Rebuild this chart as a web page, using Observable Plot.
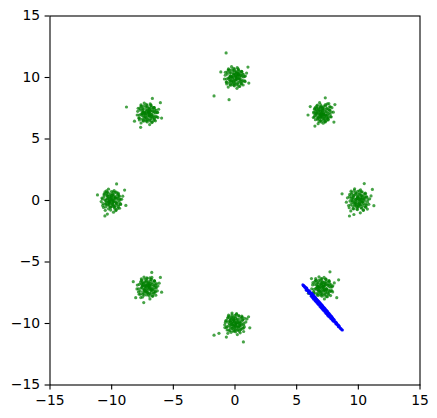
<!DOCTYPE html>
<html>
<head>
<meta charset="utf-8">
<script src="https://cdn.jsdelivr.net/npm/d3@7"></script>
<script src="https://cdn.jsdelivr.net/npm/@observablehq/plot@0.6"></script>
<style>
  html, body { margin: 0; padding: 0; background: white; }
</style>
</head>
<body>
<div id="chart"></div>
<script>
const xTicks = [-15, -10, -5, 0, 5, 10, 15];
const yTicks = [-15, -10, -5, 0, 5, 10, 15];

// green clusters: outer spread + dense core
const cluster0 = [[10.21,-0.35],[9.48,0.27],[10.56,0.61],[9.93,-0.74],[10.77,0.06],[9.65,-0.22],[10.25,0.40],[9.30,0.49],[10.04,0.11],[10.56,-0.53],[9.57,-0.66],[10.18,0.86],[9.03,-0.14],[10.35,-0.10],[9.83,0.58],[10.66,0.32],[9.74,-0.44],[10.85,-0.31],[9.41,0.76],[10.10,-0.18],[9.96,0.31],[10.40,-0.80],[9.21,-0.41],[10.50,0.17],[9.78,0.06],[10.23,-0.59],[9.52,-0.02],[11.03,0.37],[9.70,0.95],[10.06,0.49],[9.86,-0.34],[10.73,-0.70],[9.12,0.22],[10.31,0.71],[9.39,-0.85],[10.43,-0.25],[9.89,0.18],[10.16,-1.00],[9.63,0.43],[10.59,0.55],[10.01,-0.49],[9.26,-0.59],[10.92,0.14],[9.76,-0.07],[10.29,0.23],[9.48,0.66],[10.12,-0.06],[10.64,-0.40],[9.58,0.13],[9.94,0.74],[11.26,-0.42],[8.68,0.54],[10.48,1.38],[9.28,-1.26],[11.14,0.90],[9.64,-1.14],[10.37,0.02],[9.90,-0.15],[10.02,0.28],[10.19,0.09],[9.81,-0.25],[10.08,-0.30],[9.95,0.05],[10.27,-0.12]];
const cluster0core = [[10.45,0.12],[9.48,-0.20],[10.10,0.55],[9.85,-0.48],[10.62,-0.30],[9.65,0.40],[10.28,-0.62],[9.40,0.15],[10.05,-0.25],[10.35,0.35],[9.75,0.65],[10.55,-0.05],[9.55,-0.45],[10.18,0.20],[9.92,0.32],[10.40,-0.42],[9.32,-0.05],[10.25,0.68],[9.70,-0.15],[10.70,0.25],[9.88,-0.70],[10.15,-0.38],[9.45,0.50],[10.48,0.52],[9.80,0.10],[10.32,-0.15],[9.60,0.25],[10.08,0.78],[9.28,0.32],[10.60,-0.55],[9.95,-0.55],[10.22,0.42],[9.62,-0.68],[10.75,-0.12],[9.38,-0.35],[10.12,0.05],[9.82,0.50],[10.42,-0.78],[9.50,-0.02],[10.30,0.12],[9.72,-0.32],[10.52,0.30],[9.90,0.18],[10.02,-0.40],[9.67,0.82]];
const cluster1 = [[6.72,7.31],[7.45,6.88],[6.91,7.62],[7.58,7.40],[6.55,6.97],[7.19,6.63],[6.84,6.81],[7.33,7.79],[7.02,7.12],[6.47,7.48],[7.70,7.01],[6.99,6.39],[7.28,7.26],[6.63,7.70],[7.51,6.70],[6.80,7.03],[7.12,7.45],[6.38,7.19],[7.86,7.55],[7.04,6.92],[6.93,7.27],[7.40,6.51],[6.69,6.60],[7.61,7.87],[7.16,7.00],[6.86,7.95],[7.25,6.82],[6.58,7.35],[7.79,6.79],[7.09,7.58],[6.77,6.73],[7.48,7.15],[6.43,6.79],[7.21,7.68],[6.95,6.50],[7.67,7.33],[6.66,7.09],[7.36,6.95],[6.89,7.39],[7.55,6.60],[7.00,6.84],[6.52,7.58],[7.97,7.18],[7.13,6.71],[6.74,7.52],[7.42,7.43],[6.98,7.06],[7.31,6.42],[6.61,7.12],[7.73,7.62],[8.02,6.38],[6.10,7.64],[7.32,8.35],[6.48,6.05],[8.10,7.80],[5.92,6.95],[7.07,7.20],[6.90,6.95],[7.18,7.10],[7.01,6.98],[6.88,7.15],[7.22,7.02],[7.05,7.33],[6.97,6.77]];
const cluster1core = [[7.52,6.95],[6.55,7.27],[7.17,6.52],[6.92,7.55],[7.69,7.37],[6.72,6.67],[7.35,7.69],[6.47,6.92],[7.12,7.32],[7.42,6.72],[6.82,6.42],[7.62,7.12],[6.62,7.52],[7.25,6.87],[6.99,6.75],[7.47,7.49],[6.39,7.12],[7.32,6.39],[6.77,7.22],[7.77,6.82],[6.95,7.77],[7.22,7.45],[6.52,6.57],[7.55,6.55],[6.87,6.97],[7.39,7.22],[6.67,6.82],[7.15,6.29],[6.35,6.75],[7.67,7.62],[7.02,7.62],[7.29,6.65],[6.69,7.75],[7.82,7.19],[6.45,7.42],[7.19,7.02],[6.89,6.57],[7.49,7.85],[6.57,7.09],[7.37,6.95],[6.79,7.39],[7.59,6.77],[6.97,6.89],[7.09,7.47],[6.74,6.25]];
const cluster2 = [[0.31,10.22],[-0.42,9.71],[0.55,10.48],[-0.10,9.38],[0.68,10.05],[-0.33,9.80],[0.26,10.35],[-0.63,10.44],[0.05,10.08],[0.51,9.52],[-0.39,9.41],[0.18,10.81],[-0.86,9.88],[0.34,9.90],[-0.15,10.54],[0.60,10.30],[-0.24,9.60],[0.79,9.72],[-0.53,10.70],[0.11,9.84],[-0.02,10.27],[0.38,9.27],[-0.71,9.63],[0.46,10.15],[-0.19,10.04],[0.22,9.48],[-0.45,10.00],[0.94,10.36],[-0.28,10.88],[0.07,10.45],[-0.13,9.70],[0.66,9.39],[-0.79,10.19],[0.29,10.63],[-0.55,9.22],[0.41,9.77],[-0.08,10.17],[0.16,9.12],[-0.34,10.40],[0.53,10.51],[0.02,9.56],[-0.67,9.47],[0.84,10.12],[-0.21,9.93],[0.27,10.21],[-0.47,10.60],[0.12,9.95],[0.58,9.64],[-0.38,10.12],[-0.04,10.68],[1.12,9.55],[-0.72,12.0],[-1.70,8.5],[-0.48,8.2],[1.05,10.85],[-1.15,10.45],[0.09,10.02],[-0.06,9.89],[0.20,10.10],[-0.11,10.28],[0.36,10.01],[0.01,9.76],[-0.27,10.09],[0.14,10.33]];
const cluster2core = [[0.12,10.45],[-0.20,9.48],[0.55,10.10],[-0.48,9.85],[-0.30,10.62],[0.40,9.65],[-0.62,10.28],[0.15,9.40],[-0.25,10.05],[0.35,10.35],[0.65,9.75],[-0.05,10.55],[-0.45,9.55],[0.20,10.18],[0.32,9.92],[-0.42,10.40],[-0.05,9.32],[0.68,10.25],[-0.15,9.70],[0.25,10.70],[-0.70,9.88],[-0.38,10.15],[0.50,9.45],[0.52,10.48],[0.10,9.80],[-0.15,10.32],[0.25,9.60],[0.78,10.08],[0.32,9.28],[-0.55,10.60],[-0.55,9.95],[0.42,10.22],[-0.68,9.62],[-0.12,10.75],[-0.35,9.38],[0.05,10.12],[0.50,9.82],[-0.78,10.42],[-0.02,9.50],[0.12,10.30],[-0.32,9.72],[0.30,10.52],[0.18,9.90],[-0.40,10.02],[0.82,9.67]];
const cluster3 = [[-6.78,6.81],[-7.52,7.33],[-6.60,7.55],[-7.18,6.46],[-6.43,7.12],[-7.39,6.90],[-6.92,7.40],[-7.71,7.49],[-7.02,7.15],[-6.55,6.61],[-7.45,6.51],[-6.88,7.85],[-7.93,6.95],[-6.75,6.98],[-7.22,7.60],[-6.49,7.36],[-7.31,6.69],[-6.33,6.81],[-7.62,7.78],[-6.97,6.89],[-7.11,7.33],[-6.70,6.38],[-7.80,6.71],[-6.63,7.21],[-7.27,7.12],[-6.86,6.56],[-7.53,7.05],[-6.19,7.42],[-7.36,7.92],[-7.01,7.50],[-7.20,6.77],[-6.45,6.48],[-7.89,7.25],[-6.81,7.71],[-7.62,6.30],[-6.71,6.85],[-7.16,7.22],[-6.92,6.17],[-7.44,7.45],[-6.56,7.56],[-7.06,6.62],[-7.75,6.55],[-6.28,7.17],[-7.29,6.99],[-6.84,7.27],[-7.57,7.65],[-6.96,7.00],[-6.52,6.72],[-7.48,7.16],[-7.13,7.73],[-5.95,6.70],[-8.80,7.60],[-6.70,8.30],[-7.65,5.95],[-6.05,7.95],[-8.15,6.45],[-7.00,7.10],[-7.12,6.96],[-6.90,7.08],[-7.24,7.02],[-7.04,7.28],[-6.94,6.84],[-7.33,7.18],[-6.99,7.19]];
const cluster3core = [[-6.95,7.52],[-7.27,6.55],[-6.52,7.17],[-7.55,6.92],[-7.37,7.69],[-6.67,6.72],[-7.69,7.35],[-6.92,6.47],[-7.32,7.12],[-6.72,7.42],[-6.42,6.82],[-7.12,7.62],[-7.52,6.62],[-6.87,7.25],[-6.75,6.99],[-7.49,7.47],[-7.12,6.39],[-6.39,7.32],[-7.22,6.77],[-6.82,7.77],[-7.77,6.95],[-7.45,7.22],[-6.57,6.52],[-6.55,7.55],[-6.97,6.87],[-7.22,7.39],[-6.82,6.67],[-6.29,7.15],[-6.75,6.35],[-7.62,7.67],[-7.62,7.02],[-6.65,7.29],[-7.75,6.69],[-7.19,7.82],[-7.42,6.45],[-7.02,7.19],[-6.57,6.89],[-7.85,7.49],[-7.09,6.57],[-6.95,7.37],[-7.39,6.79],[-6.77,7.59],[-6.89,6.97],[-7.47,7.09],[-6.25,6.74]];
const cluster4 = [[-9.70,0.24],[-10.43,-0.28],[-9.47,0.60],[-10.08,-0.55],[-9.32,0.12],[-10.30,0.31],[-9.84,-0.39],[-10.62,0.45],[-9.95,0.06],[-9.50,-0.64],[-10.36,0.68],[-9.80,0.81],[-10.85,-0.09],[-9.66,-0.15],[-10.12,0.50],[-9.41,0.37],[-10.21,-0.32],[-9.27,-0.28],[-10.54,0.70],[-9.90,-0.12],[-10.04,0.29],[-9.63,-0.77],[-10.73,-0.41],[-9.55,0.20],[-10.17,0.03],[-9.76,-0.54],[-10.47,0.01],[-9.10,0.35],[-10.26,0.92],[-9.93,0.44],[-10.13,-0.22],[-9.36,-0.63],[-10.79,0.20],[-9.71,0.66],[-10.52,-0.80],[-9.62,-0.20],[-10.07,0.16],[-9.85,-0.95],[-10.34,0.40],[-9.45,0.52],[-9.98,-0.45],[-10.66,-0.57],[-9.19,0.10],[-10.22,-0.04],[-9.74,0.22],[-10.45,0.58],[-9.88,-0.04],[-9.44,-0.37],[-10.37,0.13],[-10.02,0.73],[-8.85,-0.40],[-11.15,0.45],[-9.60,1.35],[-10.55,-1.25],[-8.95,0.85],[-10.35,-1.10],[-10.00,0.05],[-9.92,0.12],[-10.10,-0.08],[-9.86,0.30],[-10.18,0.19],[-9.97,-0.28],[-10.26,-0.13],[-9.79,0.01]];
const cluster4core = [[-10.45,-0.12],[-9.48,0.20],[-10.10,-0.55],[-9.85,0.48],[-10.62,0.30],[-9.65,-0.40],[-10.28,0.62],[-9.40,-0.15],[-10.05,0.25],[-10.35,-0.35],[-9.75,-0.65],[-10.55,0.05],[-9.55,0.45],[-10.18,-0.20],[-9.92,-0.32],[-10.40,0.42],[-9.32,0.05],[-10.25,-0.68],[-9.70,0.15],[-10.70,-0.25],[-9.88,0.70],[-10.15,0.38],[-9.45,-0.50],[-10.48,-0.52],[-9.80,-0.10],[-10.32,0.15],[-9.60,-0.25],[-10.08,-0.78],[-9.28,-0.32],[-10.60,0.55],[-9.95,0.55],[-10.22,-0.42],[-9.62,0.68],[-10.75,0.12],[-9.38,0.35],[-10.12,-0.05],[-9.82,-0.50],[-10.42,0.78],[-9.50,0.02],[-10.30,-0.12],[-9.72,0.32],[-10.52,-0.30],[-9.90,-0.18],[-10.02,0.40],[-9.67,-0.82]];
const cluster5 = [[-6.80,-7.30],[-7.49,-6.83],[-6.54,-6.51],[-7.15,-7.68],[-6.39,-7.04],[-7.36,-7.26],[-6.87,-6.75],[-7.66,-6.63],[-7.00,-6.98],[-6.58,-7.55],[-7.47,-7.63],[-6.90,-6.28],[-7.95,-7.19],[-6.74,-7.15],[-7.22,-6.58],[-6.46,-6.80],[-7.31,-7.45],[-6.30,-7.34],[-7.59,-6.36],[-6.95,-7.22],[-7.10,-6.80],[-6.68,-7.79],[-7.83,-7.43],[-6.60,-6.93],[-7.26,-7.01],[-6.83,-7.61],[-7.55,-7.09],[-6.15,-6.72],[-7.38,-6.22],[-7.02,-6.61],[-7.21,-7.37],[-6.42,-7.70],[-7.92,-6.88],[-6.78,-6.42],[-7.64,-7.89],[-6.69,-7.28],[-7.14,-6.91],[-6.90,-8.00],[-7.45,-6.70],[-6.53,-6.55],[-7.05,-7.52],[-7.77,-7.62],[-6.25,-6.95],[-7.28,-7.14],[-6.82,-6.86],[-7.58,-6.48],[-6.98,-7.13],[-6.49,-7.42],[-7.50,-6.96],[-7.12,-6.35],[-5.95,-7.45],[-8.25,-6.60],[-6.75,-5.85],[-7.40,-8.30],[-6.05,-6.25],[-8.05,-7.90],[-7.02,-7.04],[-7.16,-7.20],[-6.93,-7.09],[-7.28,-6.89],[-7.05,-6.73],[-6.86,-7.16],[-7.37,-7.31],[-6.96,-6.89]];
const cluster5core = [[-7.52,-6.95],[-6.55,-7.27],[-7.17,-6.52],[-6.92,-7.55],[-7.69,-7.37],[-6.72,-6.67],[-7.35,-7.69],[-6.47,-6.92],[-7.12,-7.32],[-7.42,-6.72],[-6.82,-6.42],[-7.62,-7.12],[-6.62,-7.52],[-7.25,-6.87],[-6.99,-6.75],[-7.47,-7.49],[-6.39,-7.12],[-7.32,-6.39],[-6.77,-7.22],[-7.77,-6.82],[-6.95,-7.77],[-7.22,-7.45],[-6.52,-6.57],[-7.55,-6.55],[-6.87,-6.97],[-7.39,-7.22],[-6.67,-6.82],[-7.15,-6.29],[-6.35,-6.75],[-7.67,-7.62],[-7.02,-7.62],[-7.29,-6.65],[-6.69,-7.75],[-7.82,-7.19],[-6.45,-7.42],[-7.19,-7.02],[-6.89,-6.57],[-7.49,-7.85],[-6.57,-7.09],[-7.37,-6.95],[-6.79,-7.39],[-7.59,-6.77],[-6.97,-6.89],[-7.09,-7.47],[-6.74,-6.25]];
const cluster6 = [[0.27,-10.30],[-0.39,-9.76],[0.58,-9.48],[-0.05,-10.62],[0.72,-9.98],[-0.30,-10.21],[0.21,-9.65],[-0.60,-9.55],[0.09,-9.93],[0.48,-10.49],[-0.41,-10.58],[0.13,-9.20],[-0.83,-10.10],[0.36,-10.13],[-0.18,-9.47],[0.63,-9.70],[-0.20,-10.40],[0.76,-10.28],[-0.52,-9.32],[0.05,-10.15],[-0.06,-9.73],[0.42,-10.76],[-0.69,-10.33],[0.49,-9.84],[-0.15,-9.97],[0.25,-10.52],[-0.44,-10.03],[0.97,-9.63],[-0.24,-9.15],[0.03,-9.58],[-0.10,-10.30],[0.70,-10.65],[-0.76,-9.79],[0.32,-9.38],[-0.58,-10.80],[0.38,-10.22],[-0.03,-9.84],[0.19,-10.90],[-0.31,-9.62],[0.56,-9.50],[0.00,-10.44],[-0.64,-10.53],[0.88,-9.87],[-0.25,-10.07],[0.24,-9.80],[-0.50,-9.41],[0.10,-10.05],[0.61,-10.37],[-0.36,-9.88],[-0.02,-9.33],[-1.70,-10.95],[-1.30,-10.80],[0.68,-11.50],[-0.70,-11.10],[1.20,-10.35],[1.10,-9.45],[0.06,-10.00],[-0.08,-10.12],[0.17,-9.91],[-0.12,-9.70],[0.33,-9.99],[0.02,-10.25],[-0.28,-9.92],[0.14,-10.20]];
const cluster6core = [[-0.12,-9.55],[0.20,-10.52],[-0.55,-9.90],[0.48,-10.15],[0.30,-9.38],[-0.40,-10.35],[0.62,-9.72],[-0.15,-10.60],[0.25,-9.95],[-0.35,-9.65],[-0.65,-10.25],[0.05,-9.45],[0.45,-10.45],[-0.20,-9.82],[-0.32,-10.08],[0.42,-9.60],[0.05,-10.68],[-0.68,-9.75],[0.15,-10.30],[-0.25,-9.30],[0.70,-10.12],[0.38,-9.85],[-0.50,-10.55],[-0.52,-9.52],[-0.10,-10.20],[0.15,-9.68],[-0.25,-10.40],[-0.78,-9.92],[-0.32,-10.72],[0.55,-9.40],[0.55,-10.05],[-0.42,-9.78],[0.68,-10.38],[0.12,-9.25],[0.35,-10.62],[-0.05,-9.88],[-0.50,-10.18],[0.78,-9.58],[0.02,-10.50],[-0.12,-9.70],[0.32,-10.28],[-0.30,-9.48],[-0.18,-10.10],[0.40,-9.98],[-0.82,-10.33]];
const cluster7 = [[7.34,-7.36],[6.63,-6.85],[7.62,-6.52],[7.00,-7.70],[7.77,-7.05],[6.78,-7.27],[7.30,-6.72],[6.47,-6.60],[7.15,-6.97],[7.56,-7.56],[6.68,-7.66],[7.22,-6.25],[6.22,-7.18],[7.41,-7.17],[6.91,-6.54],[7.69,-6.78],[6.86,-7.47],[7.84,-7.33],[6.54,-6.34],[7.12,-7.22],[7.03,-6.78],[7.49,-7.82],[6.37,-7.41],[7.55,-6.90],[6.92,-7.02],[7.31,-7.62],[6.62,-7.09],[8.05,-6.70],[6.81,-6.20],[7.10,-6.63],[6.95,-7.38],[7.75,-7.73],[6.29,-6.86],[7.38,-6.40],[6.51,-7.90],[7.45,-7.27],[7.04,-6.92],[7.25,-8.00],[6.74,-6.68],[7.63,-6.56],[7.07,-7.51],[6.41,-7.58],[7.93,-6.93],[6.84,-7.12],[7.32,-6.84],[6.58,-6.49],[7.17,-7.07],[7.67,-7.41],[6.70,-6.95],[7.06,-6.36],[8.40,-6.45],[5.95,-7.55],[7.70,-5.80],[6.75,-8.25],[8.25,-7.90],[6.20,-6.35],[7.10,-7.05],[6.99,-7.18],[7.22,-6.95],[6.88,-6.87],[7.28,-7.25],[7.01,-6.73],[6.80,-7.30],[7.19,-7.35]];
const cluster7core = [[7.22,-6.65],[6.90,-7.62],[7.65,-7.00],[6.62,-7.25],[6.80,-6.48],[7.50,-7.45],[6.48,-6.82],[7.25,-7.70],[6.85,-7.05],[7.45,-6.75],[7.75,-7.35],[7.05,-6.55],[6.65,-7.55],[7.30,-6.92],[7.42,-7.18],[6.68,-6.70],[7.05,-7.78],[7.78,-6.85],[6.95,-7.40],[7.35,-6.40],[6.40,-7.22],[6.72,-6.95],[7.60,-7.65],[7.62,-6.62],[7.20,-7.30],[6.95,-6.78],[7.35,-7.50],[7.88,-7.02],[7.42,-7.82],[6.55,-6.50],[6.55,-7.15],[7.52,-6.88],[6.42,-7.48],[6.98,-6.35],[6.75,-7.72],[7.15,-6.98],[7.60,-7.28],[6.32,-6.68],[7.08,-7.60],[7.22,-6.80],[6.78,-7.38],[7.40,-6.58],[7.28,-7.20],[6.70,-7.08],[7.92,-7.43]];

// blue elongated cluster
const bluePoints = [[5.50,-6.85],[5.54,-6.93],[5.58,-6.92],[5.63,-7.04],[5.66,-6.99],[5.71,-7.12],[5.74,-7.07],[5.79,-7.22],[5.83,-7.19],[5.87,-7.31],[5.91,-7.27],[5.95,-7.40],[5.99,-7.37],[6.03,-7.50],[6.06,-7.41],[6.10,-7.58],[6.14,-7.53],[6.18,-7.68],[6.21,-7.60],[6.25,-7.76],[6.28,-7.67],[6.32,-7.84],[6.35,-7.75],[6.39,-7.93],[6.42,-7.84],[6.46,-8.01],[6.49,-7.92],[6.53,-8.10],[6.56,-7.99],[6.60,-8.18],[6.63,-8.06],[6.67,-8.26],[6.70,-8.15],[6.74,-8.33],[6.77,-8.22],[6.81,-8.42],[6.84,-8.30],[6.88,-8.50],[6.91,-8.38],[6.95,-8.57],[6.98,-8.46],[7.02,-8.66],[7.05,-8.53],[7.09,-8.74],[7.12,-8.62],[7.16,-8.81],[7.19,-8.70],[7.23,-8.89],[7.26,-8.78],[7.30,-8.97],[7.33,-8.86],[7.37,-9.06],[7.40,-8.95],[7.44,-9.14],[7.47,-9.04],[7.51,-9.22],[7.55,-9.15],[7.59,-9.30],[7.63,-9.24],[7.67,-9.40],[7.71,-9.33],[7.75,-9.49],[7.79,-9.42],[7.83,-9.58],[7.87,-9.52],[7.91,-9.67],[7.95,-9.62],[7.99,-9.76],[8.04,-9.72],[8.09,-9.88],[8.14,-9.85],[8.19,-10.00],[8.24,-9.98],[8.30,-10.12],[8.35,-10.10],[8.41,-10.24],[8.47,-10.25],[8.53,-10.38],[8.59,-10.40],[8.65,-10.50],[8.71,-10.53],[6.45,-7.90],[6.72,-8.28],[6.95,-8.52],[7.20,-8.84],[7.42,-9.10],[6.60,-8.08],[7.08,-8.62]];
const bluePointsEdge = [[5.82,-7.12],[5.78,-7.30],[6.02,-7.33],[5.98,-7.53],[6.22,-7.53],[6.18,-7.79],[6.31,-7.63],[6.29,-7.91],[6.42,-7.77],[6.38,-8.03],[6.51,-7.87],[6.49,-8.16],[6.62,-8.00],[6.58,-8.25],[6.71,-8.10],[6.69,-8.38],[6.82,-8.23],[6.78,-8.48],[6.91,-8.33],[6.89,-8.61],[7.02,-8.46],[6.98,-8.71],[7.11,-8.56],[7.09,-8.84],[7.22,-8.70],[7.18,-8.95],[7.31,-8.80],[7.29,-9.07],[7.42,-8.93],[7.38,-9.18],[7.51,-9.03],[7.49,-9.30],[7.62,-9.16],[7.58,-9.41],[7.71,-9.28],[7.69,-9.50],[7.82,-9.41],[7.78,-9.61],[7.91,-9.54],[7.89,-9.72],[8.02,-9.67],[7.98,-9.81],[8.21,-9.92],[8.19,-10.04],[8.41,-10.16],[8.39,-10.26]];

const greenClusters = [cluster0, cluster0core, cluster1, cluster1core, cluster2, cluster2core, cluster3, cluster3core,
  cluster4, cluster4core, cluster5, cluster5core, cluster6, cluster6core, cluster7, cluster7core];
const green = greenClusters.flatMap(c => c.map(([x, y]) => ({x, y})));
const blue = [...bluePoints, ...bluePointsEdge].map(([x, y]) => ({x, y}));

const fmt = d3.format("d");

const chart = Plot.plot({
  width: 437,
  height: 418,
  marginLeft: 49.5,
  marginRight: 17.5,
  marginTop: 15.5,
  marginBottom: 33.5,
  style: {fontFamily: "'DejaVu Sans', sans-serif", fontSize: "13.9px", color: "black", background: "white", overflow: "visible"},
  x: {domain: [-15, 15], label: null},
  y: {domain: [-15, 15], label: null},
  marks: [
    Plot.dot(green, {x: "x", y: "y", r: 1.6, fill: "green", fillOpacity: 0.72, stroke: null}),
    Plot.dot(blue, {x: "x", y: "y", r: 1.5, fill: "blue", fillOpacity: 0.9, stroke: null}),
    Plot.frame({stroke: "black", strokeWidth: 1.1}),
    Plot.axisX(xTicks, {tickSize: 4.9, tickPadding: 4.9, tickFormat: fmt, strokeWidth: 1.1, fill: "black", label: null}),
    Plot.axisY(yTicks, {tickSize: 4.9, tickPadding: 4.9, tickFormat: fmt, strokeWidth: 1.1, fill: "black", label: null})
  ]
});
document.getElementById("chart").appendChild(chart);
</script>
</body>
</html>
